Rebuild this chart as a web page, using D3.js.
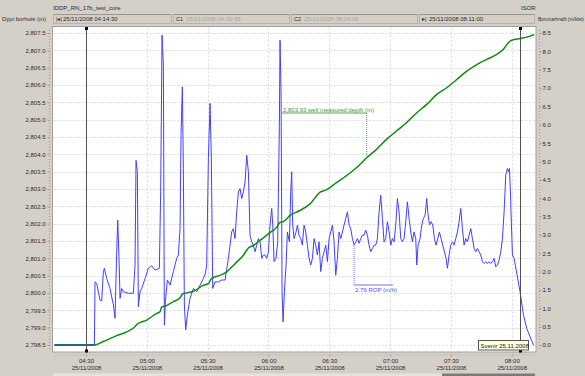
<!DOCTYPE html>
<html><head><meta charset="utf-8">
<script src="https://cdn.jsdelivr.net/npm/d3@7"></script>
<style>
html,body{margin:0;padding:0;background:#d4d0c8;}
svg{display:block;font-family:"Liberation Sans",Arial,sans-serif;}
</style></head>
<body><svg id="c" width="585" height="376"></svg>
<script>
// ---- data ----
const chartTitle = "IDDP_RN_17b_test_core";
const brandLabel = "ISOR";
const leftAxisTitle = "Dýpi borhols (m)";
const rightAxisTitle = "Borunarhraði (m/klst)";
const rangeStart = "04:14:30";
const rangeEnd = "08:11:00";
const cursorTimes = ["04:30:00", "08:04:08"];
const headerFields = ["25/11/2008 04:14:30", "25/11/2008 04:30:45", "25/11/2008 08:04:00", "25/11/2008 08:11:00"];
const xTickLabels = ["04:30", "05:00", "05:30", "06:00", "06:30", "07:00", "07:30", "08:00"];
const xDateLabel = "25/11/2008";
const leftTicks = [2798.5,2799,2799.5,2800,2800.5,2801,2801.5,2802,2802.5,2803,2803.5,2804,2804.5,2805,2805.5,2806,2806.5,2807,2807.5];
const rightTicks = [0,0.5,1,1.5,2,2.5,3,3.5,4,4.5,5,5.5,6,6.5,7,7.5,8,8.5];

const ropTimes = ["04:14:30","04:34:07","04:34:27","04:35:16","04:36:05","04:36:54","04:37:44","04:38:33","04:39:03","04:40:12","04:41:50","04:43:29","04:44:19","04:45:08","04:45:38","04:46:17","04:46:47","04:47:36","04:48:25","04:50:53","04:53:21","04:54:11","04:54:40","04:55:20","04:55:49","04:56:38","04:57:28","04:59:07","05:00:45","05:02:24","05:04:03","05:06:11","05:06:50","05:07:30","05:08:10","05:08:39","05:09:09","05:10:08","05:11:27","05:13:05","05:14:44","05:15:33","05:16:23","05:16:52","05:17:32","05:18:01","05:18:31","05:19:11","05:20:00","05:21:19","05:22:58","05:24:37","05:26:15","05:27:53","05:28:53","05:29:32","05:30:22","05:31:11","05:31:50","05:32:30","05:33:39","05:35:17","05:36:56","05:38:35","05:40:14","05:41:52","05:42:42","05:43:31","05:44:20","05:45:10","05:45:59","05:46:49","05:47:38","05:48:27","05:49:17","05:50:06","05:50:55","05:51:45","05:52:34","05:53:23","05:54:13","05:55:02","05:55:52","05:56:41","05:57:30","05:58:19","05:59:08","05:59:58","06:00:47","06:01:37","06:02:07","06:02:46","06:03:45","06:04:34","06:05:23","06:05:43","06:06:13","06:06:43","06:07:12","06:07:52","06:08:41","06:09:20","06:10:20","06:10:59","06:11:29","06:11:58","06:12:38","06:13:37","06:14:17","06:15:06","06:15:55","06:16:44","06:17:34","06:18:23","06:19:13","06:20:02","06:20:52","06:21:41","06:22:30","06:23:19","06:24:08","06:24:58","06:25:47","06:26:37","06:27:26","06:28:16","06:29:05","06:29:54","06:30:43","06:31:33","06:32:22","06:33:11","06:34:01","06:34:50","06:35:40","06:36:29","06:37:18","06:38:08","06:38:57","06:39:46","06:40:35","06:41:25","06:42:14","06:43:04","06:43:53","06:44:42","06:45:32","06:46:21","06:47:10","06:47:59","06:48:49","06:49:38","06:50:28","06:51:17","06:52:07","06:52:56","06:53:45","06:54:34","06:55:23","06:56:13","06:57:02","06:57:52","06:58:41","06:59:31","07:00:20","07:01:09","07:01:58","07:02:48","07:03:37","07:04:26","07:05:16","07:06:05","07:06:55","07:07:44","07:08:33","07:09:23","07:10:12","07:11:01","07:11:50","07:12:40","07:13:10","07:13:49","07:14:48","07:15:38","07:16:27","07:17:16","07:18:05","07:18:35","07:19:25","07:20:14","07:21:03","07:21:53","07:22:42","07:23:31","07:24:20","07:25:10","07:25:59","07:26:49","07:27:38","07:28:17","07:29:07","07:29:56","07:30:46","07:31:35","07:32:24","07:33:14","07:34:03","07:34:52","07:35:41","07:36:31","07:37:20","07:38:10","07:38:59","07:39:48","07:40:38","07:41:27","07:42:16","07:43:05","07:43:55","07:44:44","07:45:34","07:46:23","07:47:12","07:48:02","07:48:51","07:49:40","07:50:29","07:51:19","07:52:08","07:52:58","07:53:47","07:54:37","07:55:26","07:56:15","07:57:04","07:57:53","07:58:23","07:58:53","07:59:22","07:59:52","08:00:22","08:01:11","08:04:08","08:05:47","08:07:26","08:10:43","08:11:00"];
const ropValues = [0,0,1.72,1.68,1.45,1.22,1.20,2.00,2.09,1.81,1.54,1.09,0.73,2.54,3.40,2.36,1.27,1.54,1.45,1.41,1.41,2.18,5.03,4.72,1.04,1.45,1.54,1.81,2.09,2.16,2.04,2.09,4.17,8.44,7.62,0.54,1.18,1.77,1.63,2.00,2.36,2.45,3.17,5.71,7.03,4.81,1.09,0.41,0.82,1.27,1.54,1.45,1.63,1.81,1.95,2.18,5.08,6.58,5.08,1.54,1.72,1.72,1.77,1.77,2.36,3.08,3.17,2.90,3.63,4.17,4.26,3.99,4.17,4.44,5.17,4.72,2.99,2.81,2.72,2.54,2.72,2.90,2.81,2.36,2.45,2.45,2.36,2.54,3.27,3.72,3.27,2.27,2.36,2.81,5.99,8.30,6.89,1.45,0.63,1.45,2.18,3.08,2.81,4.17,4.72,3.27,2.90,3.08,3.27,2.99,2.90,2.72,3.27,3.08,2.72,2.36,2.18,2.36,2.90,2.72,2.45,2.81,2.00,2.36,2.54,2.72,2.27,2.90,3.08,3.27,2.81,1.90,2.36,3.08,2.90,3.08,3.27,3.45,3.63,3.27,3.17,2.90,2.72,2.81,2.90,2.77,2.90,2.99,2.99,3.13,2.99,2.72,2.54,2.63,2.72,2.72,2.90,3.63,4.08,3.45,2.81,2.90,3.36,3.08,2.72,2.90,2.81,3.27,3.99,3.63,2.90,2.81,2.90,3.36,3.90,3.45,3.08,2.81,3.08,2.90,2.18,2.72,2.90,3.27,3.45,3.54,3.99,3.63,3.27,3.36,3.27,2.90,2.72,2.90,3.08,2.90,2.72,2.54,2.36,2.09,2.45,2.72,2.81,2.72,2.90,3.08,3.36,3.72,3.17,2.72,2.90,2.81,2.99,3.17,2.90,2.63,2.54,2.63,2.54,2.45,2.27,2.22,2.27,2.22,2.27,2.22,2.27,2.36,2.13,2.18,2.31,2.54,2.90,3.63,4.63,4.81,4.72,4.81,4.17,3.27,2.45,2.36,1.45,0.82,0.45,0,0];

const depthTimes = ["04:14:30","04:34:07","04:38:33","04:45:08","04:50:04","04:54:11","04:55:00","04:59:56","05:04:52","05:06:31","05:07:20","05:08:59","05:13:05","05:16:23","05:17:42","05:19:40","05:22:58","05:27:53","05:30:22","05:32:00","05:36:07","05:39:25","05:41:52","05:44:20","05:47:38","05:50:06","05:52:34","05:55:52","06:00:47","06:04:05","06:05:43","06:07:22","06:10:40","06:15:35","06:20:32","06:25:28","06:28:45","06:33:41","06:38:37","06:43:33","06:48:29","06:53:25","06:58:21","07:03:17","07:08:13","07:13:10","07:18:05","07:23:02","07:27:58","07:32:54","07:37:50","07:42:46","07:47:42","07:52:38","07:55:55","07:58:23","08:00:02","08:04:08","08:09:05","08:11:00"];
const depthValues = [2798.5,2798.5,2798.60,2798.77,2798.88,2799.03,2799.09,2799.22,2799.41,2799.46,2799.60,2799.62,2799.75,2799.86,2799.98,2800.00,2800.05,2800.22,2800.27,2800.42,2800.51,2800.61,2800.75,2800.89,2801.09,2801.30,2801.37,2801.52,2801.74,2801.90,2802.04,2802.06,2802.24,2802.38,2802.57,2802.91,2802.98,2803.19,2803.39,2803.62,2803.90,2804.15,2804.44,2804.68,2804.92,2805.20,2805.44,2805.73,2805.92,2806.16,2806.40,2806.59,2806.74,2806.88,2807.03,2807.22,2807.29,2807.34,2807.41,2807.45];

const depthNote = {time: "06:48:29", value: 2803.93, text: "2,803.93 well measured depth (m)"};
const ropNote = {time: "06:42:14", value: 2.76, text: "2.76 ROP (m/h)"};
const tooltipText = "Svenir 25.11.2008";

// ---- drawing ----
const parse = d3.timeParse("%H:%M:%S");
const svg = d3.select("#c");
const FONT = 6;
const TXT = "#2a2a2a";

const plot = {l: 52.5, r: 536, t: 26.5, b: 352};
const x = d3.scaleTime().domain([parse(rangeStart), parse(rangeEnd)]).range([54.6, 534]);
const yL = d3.scaleLinear().domain([2798.5, 2807.5]).range([345, 33]);
const yR = d3.scaleLinear().domain([0, 8.5]).range([345, 33]);

// header
svg.append("text").attr("x", 53).attr("y", 10).attr("font-size", FONT).attr("fill", TXT).text(chartTitle);
svg.append("text").attr("x", 521).attr("y", 10).attr("font-size", FONT).attr("fill", TXT).text(brandLabel);
svg.append("text").attr("x", 2).attr("y", 21).attr("font-size", FONT).attr("fill", TXT).text(leftAxisTitle);
svg.append("text").attr("x", 538).attr("y", 21).attr("font-size", 5.2).attr("fill", TXT)
  .attr("textLength", 46).attr("lengthAdjust", "spacingAndGlyphs").text(rightAxisTitle);

const boxes = [[53, 172, "|◂|", true], [173, 290, "C1", false], [291, 418, "C2", false], [419, 535, "▸|", true]];
boxes.forEach((b, i) => {
  svg.append("rect").attr("x", b[0] + 0.5).attr("y", 14.5).attr("width", b[1] - b[0] - 1).attr("height", 9)
    .attr("fill", "#d4d0c8").attr("stroke", "#b8b4ac");
  svg.append("line").attr("x1", b[0] + 0.5).attr("x2", b[1] - 0.5).attr("y1", 14.5).attr("y2", 14.5).attr("stroke", "#9a968e");
  svg.append("text").attr("x", b[0] + 3).attr("y", 21).attr("font-size", FONT - 0.5).attr("fill", TXT).text(b[2]);
  svg.append("text").attr("x", b[0] + (i === 0 || i === 3 ? 10 : 13)).attr("y", 21).attr("font-size", FONT)
    .attr("fill", b[3] ? TXT : "#a6a39c").text(headerFields[i]);
});

// plot area
svg.append("rect").attr("x", plot.l).attr("y", plot.t).attr("width", plot.r - plot.l).attr("height", plot.b - plot.t)
  .attr("fill", "#ffffff").attr("stroke", "#a0a0a0");

// grid
const grid = svg.append("g").attr("stroke", "#d8d8d8").attr("stroke-dasharray", "2,2").attr("stroke-width", 1);
leftTicks.forEach(v => grid.append("line").attr("x1", plot.l + 1).attr("x2", plot.r - 1)
  .attr("y1", Math.round(yL(v)) + 0.5).attr("y2", Math.round(yL(v)) + 0.5));
const xTickDates = xTickLabels.map(s => parse(s + ":00"));
xTickDates.forEach(d => grid.append("line").attr("y1", plot.t + 1).attr("y2", plot.b - 1)
  .attr("x1", Math.round(x(d)) + 0.5).attr("x2", Math.round(x(d)) + 0.5));

// axes
const axL = svg.append("g").attr("transform", "translate(49.5,0)")
  .call(d3.axisLeft(yL).tickValues(leftTicks).tickFormat(d3.format(",.1f")).tickSize(2).tickPadding(2));
const axR = svg.append("g").attr("transform", "translate(539.5,0)")
  .call(d3.axisRight(yR).tickValues(rightTicks).tickFormat(d3.format(".1f")).tickSize(2).tickPadding(1));
[axL, axR].forEach(a => {
  a.select(".domain").attr("stroke", "#9a9a9a").attr("stroke-dasharray", "1,2").attr("d", "M0,30V350");
  a.selectAll(".tick line").attr("stroke", "#9a9a9a");
  a.selectAll("text").attr("font-size", FONT).attr("fill", TXT).attr("font-family", "Liberation Sans, Arial, sans-serif");
});

const axB = svg.append("g").attr("transform", "translate(0,354.5)")
  .call(d3.axisBottom(x).tickValues(xTickDates).tickFormat(d3.timeFormat("%H:%M")).tickSize(2).tickPadding(2));
axB.select(".domain").attr("stroke", "#b0aca4").attr("stroke-dasharray", "1,2");
axB.selectAll(".tick line").attr("stroke", "#9a9a9a");
axB.selectAll(".tick text").attr("font-size", FONT).attr("fill", TXT).attr("font-family", "Liberation Sans, Arial, sans-serif")
  .each(function() {
    const t = d3.select(this);
    t.append("tspan").attr("x", 0).attr("dy", "1.25em").text(xDateLabel);
  });

// scrollbar at the bottom
svg.append("rect").attr("x", 53).attr("y", 373.5).attr("width", 482).attr("height", 3).attr("fill", "#e6e3dd");
svg.append("rect").attr("x", 442).attr("y", 373.5).attr("width", 93).attr("height", 3).attr("fill", "#7c7a76");

// series
const clip = svg.append("clipPath").attr("id", "pc").append("rect")
  .attr("x", plot.l).attr("y", plot.t).attr("width", plot.r - plot.l).attr("height", plot.b - plot.t);
const depthData = depthTimes.map((t, i) => [parse(t), depthValues[i]]);
const ropData = ropTimes.map((t, i) => [parse(t), ropValues[i]]);

svg.append("path").attr("clip-path", "url(#pc)").datum(ropData)
  .attr("d", d3.line().x(d => x(d[0])).y(d => yR(d[1])))
  .attr("fill", "none").attr("stroke", "#4040ff").attr("stroke-width", 1);
svg.append("path").attr("clip-path", "url(#pc)").datum(depthData)
  .attr("d", d3.line().x(d => x(d[0])).y(d => yL(d[1])).curve(d3.curveMonotoneX))
  .attr("fill", "none").attr("stroke", "#118a11").attr("stroke-width", 1.5);
// overlap of flat start (dark teal)
svg.append("line").attr("x1", x(parse(depthTimes[0]))).attr("x2", x(parse(depthTimes[1])))
  .attr("y1", yL(depthValues[0])).attr("y2", yL(depthValues[1])).attr("stroke", "#1f5f8a").attr("stroke-width", 1.4);

// annotations
const dnx = x(parse(depthNote.time)), dny = yL(depthNote.value);
svg.append("line").attr("x1", dnx).attr("x2", dnx).attr("y1", 113).attr("y2", dny)
  .attr("stroke", "#4caa4c").attr("stroke-dasharray", "1,1");
svg.append("line").attr("x1", 282).attr("x2", dnx).attr("y1", 113).attr("y2", 113).attr("stroke", "#4caa4c");
svg.append("text").attr("x", 283).attr("y", 111.5).attr("font-size", FONT).attr("fill", "#3a9a3a").text(depthNote.text);

const rnx = x(parse(ropNote.time)), rny = yR(ropNote.value);
svg.append("line").attr("x1", rnx).attr("x2", rnx).attr("y1", 285).attr("y2", rny)
  .attr("stroke", "#7070ff").attr("stroke-dasharray", "1,1");
svg.append("line").attr("x1", rnx).attr("x2", rnx + 39).attr("y1", 285).attr("y2", 285).attr("stroke", "#7070ff");
svg.append("text").attr("x", rnx + 1).attr("y", 291.5).attr("font-size", FONT).attr("fill", "#5050ff").text(ropNote.text);

// cursors
cursorTimes.forEach(t => {
  const cx = Math.round(x(parse(t))) + 0.5;
  svg.append("line").attr("x1", cx).attr("x2", cx).attr("y1", 28).attr("y2", 351).attr("stroke", "#505050").attr("stroke-width", 1);
  svg.append("rect").attr("x", cx - 1.5).attr("y", 27).attr("width", 3).attr("height", 3).attr("fill", "#000");
  svg.append("rect").attr("x", cx - 1.5).attr("y", 349.5).attr("width", 3).attr("height", 3).attr("fill", "#000");
});

// tooltip
svg.append("rect").attr("x", 478.5).attr("y", 340.5).attr("width", 50).attr("height", 9.5)
  .attr("fill", "#ffffe1").attr("stroke", "#555");
svg.append("text").attr("x", 480.5).attr("y", 347.5).attr("font-size", FONT).attr("fill", "#222").text(tooltipText);
</script>
</body></html>
